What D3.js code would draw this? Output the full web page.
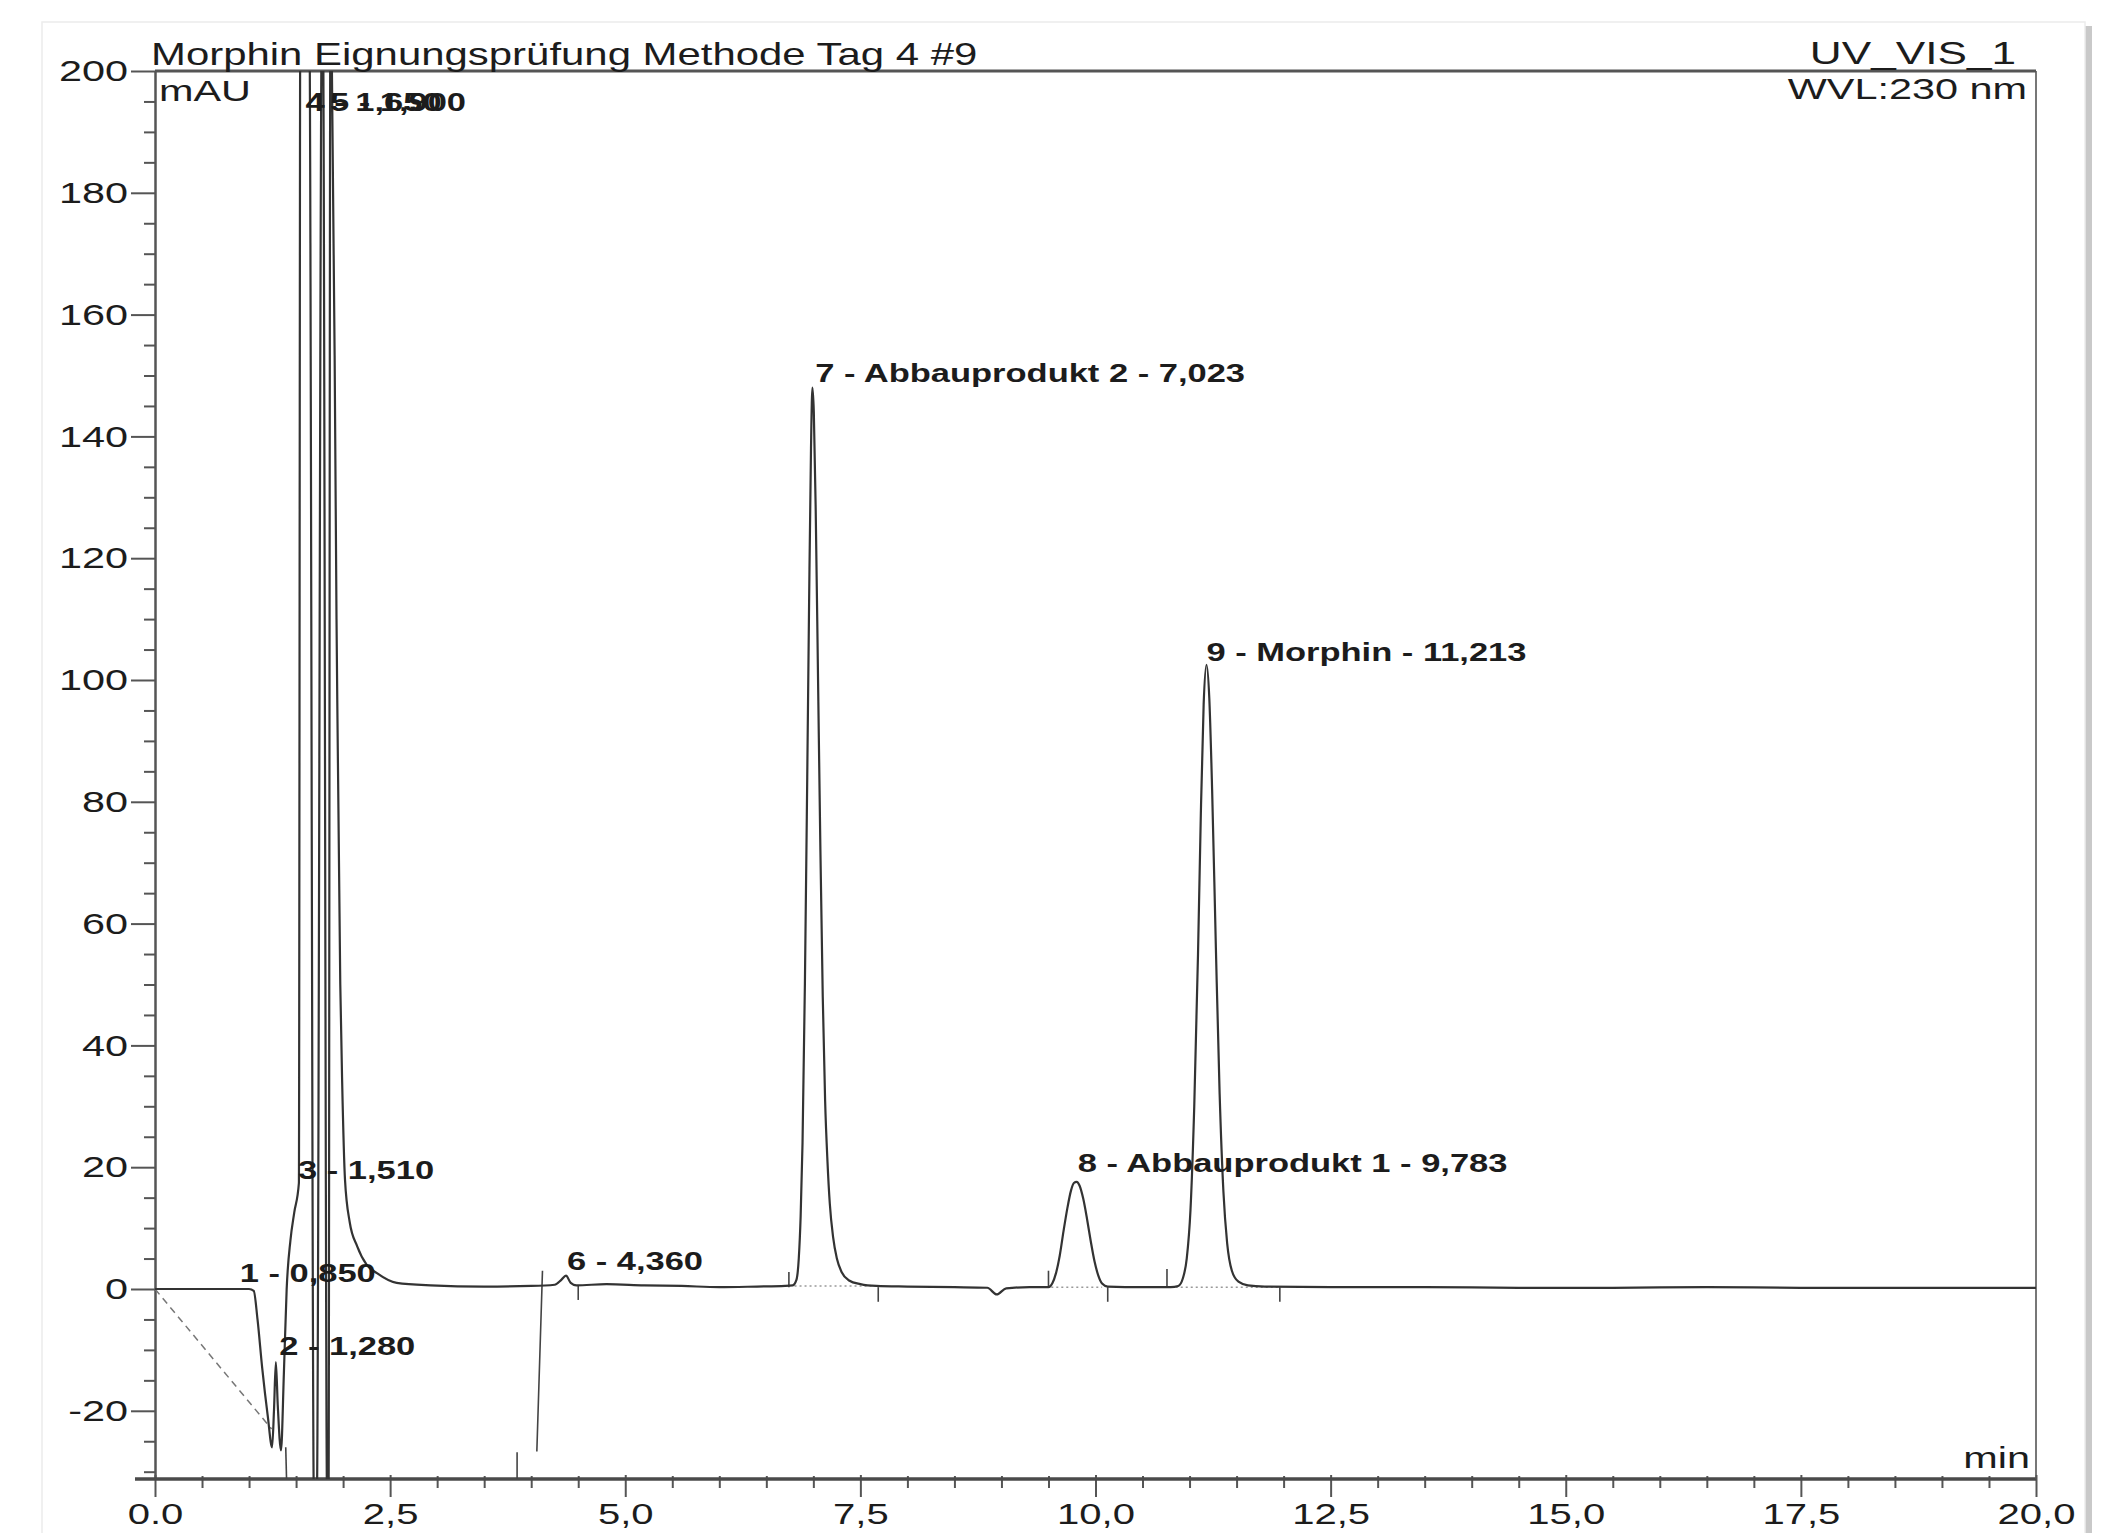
<!DOCTYPE html>
<html>
<head>
<meta charset="utf-8">
<script src="https://cdn.jsdelivr.net/npm/d3@7"></script>
<style>
  html, body { margin: 0; background: #fff; }
  svg { display: block; }
  text { font-family: "Liberation Sans", Arial, sans-serif; fill: #1c1c1c; }
</style>
</head>
<body>
<svg id="chart" width="2106" height="1533"></svg>
<script>
// Chromatogram UV_VIS_1 (min, mAU)
const title = 'Morphin Eignungsprüfung Methode Tag 4 #9';
const channel = 'UV_VIS_1';
const wavelength = 'WVL:230 nm';

const trace = [
  [0.00, 0.0], [0.50, 0.0], [1.00, 0.0], [1.05, -0.3], [1.09, -5], [1.14, -13], [1.20, -21],
  [1.245, -26], [1.265, -20], [1.285, -12], [1.305, -19], [1.34, -26.5], [1.37, -14],
  [1.40, 0], [1.44, 8], [1.48, 12.5], [1.53, 17.4],
  [1.545, 210], [1.64, 210], [1.69, -35], [1.72, -35], [1.775, 210], [1.785, 210],
  [1.83, -35], [1.845, -35], [1.865, 210], [1.875, 210],
  [1.93, 110], [1.97, 50], [1.99, 34], [2.02, 18], [2.07, 11], [2.15, 7], [2.25, 4],
  [2.36, 2.6], [2.57, 1.0], [2.93, 0.6], [3.50, 0.4], [4.00, 0.5], [4.25, 0.7],
  [4.32, 1.5], [4.37, 2.2], [4.42, 1.0], [4.48, 0.6], [4.80, 0.8], [5.20, 0.6],
  [5.60, 0.5], [6.00, 0.3], [6.40, 0.4],
  [6.70, 0.5], [6.78, 0.6], [6.82, 1.5], [6.845, 5], [6.865, 12], [6.885, 24], [6.91, 50],
  [6.935, 84], [6.955, 113], [6.975, 138], [6.99, 148], [7.005, 144], [7.025, 128],
  [7.05, 100], [7.075, 72], [7.10, 48], [7.125, 31], [7.15, 21], [7.175, 14], [7.21, 8.5],
  [7.25, 5], [7.30, 2.8], [7.38, 1.4], [7.50, 0.8], [7.67, 0.5],
  [8.00, 0.4], [8.50, 0.3], [8.85, 0.2], [8.95, -0.9], [9.05, 0.1], [9.30, 0.3],
  [9.50, 0.3], [9.54, 0.9], [9.58, 2.6], [9.62, 5.5], [9.66, 9.5], [9.70, 13.2], [9.74, 16.2],
  [9.77, 17.4], [9.80, 17.6], [9.83, 17.0], [9.87, 14.8], [9.91, 11.5], [9.95, 7.8],
  [9.99, 4.5], [10.03, 2.2], [10.07, 0.9], [10.13, 0.4], [10.50, 0.3],
  [10.80, 0.3], [10.88, 0.5], [10.93, 1.8], [10.97, 5], [11.01, 13], [11.05, 30], [11.09, 55],
  [11.12, 78], [11.15, 96], [11.18, 102.5], [11.21, 97], [11.24, 82], [11.28, 56], [11.32, 32],
  [11.36, 16], [11.40, 7.5], [11.45, 3], [11.52, 1.2], [11.62, 0.6], [11.80, 0.4],
  [12.50, 0.3], [13.50, 0.3], [14.50, 0.2], [15.50, 0.2], [16.50, 0.3], [17.50, 0.2],
  [18.50, 0.2], [19.50, 0.2], [20.00, 0.2]
];

// peak labels and where their text starts (min, mAU)
const peakLabels = ['1 - 0,850', '2 - 1,280', '3 - 1,510', '4 - 1,650', '5 - 1,900', '6 - 4,360',
  '7 - Abbauprodukt 2 - 7,023', '8 - Abbauprodukt 1 - 9,783', '9 - Morphin - 11,213'];
const peakLabelAt = [[0.90, 1.2], [1.32, -10.9], [1.52, 18.1], [1.60, 193.5], [1.86, 193.5],
  [4.38, 3.1], [7.02, 148.9], [9.81, 19.2], [11.18, 103.1]];

// integration baselines and peak delimiters
const dashedBase = [[0, 0], [1.24, -23]];
const dottedBases = [[[6.80, 0.5], [7.67, 0.5]], [[9.53, 0.3], [10.07, 0.3]], [[10.80, 0.3], [11.95, 0.3]]];
const delimiters = [
  [1.39, -26, 1.40, -32], [3.85, -26.8, 3.85, -32], [4.12, 3.0, 4.06, -26.7],
  [4.50, 0.5, 4.50, -1.8], [6.74, 2.8, 6.74, 0.3], [7.69, 0.3, 7.69, -2.1],
  [9.50, 3.0, 9.50, 0.3], [10.13, 0.3, 10.13, -2.1], [10.76, 3.3, 10.76, 0.3],
  [11.96, 0.3, 11.96, -2.1]
];

const xTicks = [0, 2.5, 5, 7.5, 10, 12.5, 15, 17.5, 20];
const xTickLabels = ['0.0', '2,5', '5,0', '7,5', '10,0', '12,5', '15,0', '17,5', '20,0'];
const yTicks = [-20, 0, 20, 40, 60, 80, 100, 120, 140, 160, 180, 200];
const yTickLabels = ['-20', '0', '20', '40', '60', '80', '100', '120', '140', '160', '180', '200'];

const SX = 1.38; // the scan is stretched sideways, so is the lettering
const svg = d3.select('#chart');
const X0 = 155, X1 = 2036, YT = 71, YB = 1479;
const x = d3.scaleLinear().domain([0, 20]).range([X0, X1]);
const y = d3.scaleLinear().domain([-31.2, 200]).range([YB, YT]);

// page edge with a little shadow on the right
svg.append('rect').attr('x', 2085).attr('y', 26).attr('width', 7).attr('height', 1507).attr('fill', '#c9c9c9');
svg.append('rect').attr('x', 42).attr('y', 22).attr('width', 2043).attr('height', 1520)
  .attr('fill', '#fff').attr('stroke', '#ececec').attr('stroke-width', 1.5);

function txt(s, px, py, size, weight, anchor, sx) {
  return svg.append('text')
    .attr('transform', `translate(${px},${py}) scale(${sx || SX},1)`)
    .attr('text-anchor', anchor || 'start')
    .style('font-size', size + 'px').style('font-weight', weight || 'normal')
    .text(s);
}

// y axis
const yAx = svg.append('g').attr('transform', `translate(${X0},0)`)
  .call(d3.axisLeft(y).tickValues(yTicks).tickFormat((d, i) => yTickLabels[i]).tickSize(24).tickSizeOuter(0));
yAx.select('.domain').attr('stroke', '#555').attr('stroke-width', 2.5);
yAx.selectAll('.tick line').attr('stroke', '#555').attr('stroke-width', 2);
yAx.selectAll('.tick text').attr('x', -27 / SX).attr('transform', `scale(${SX},1)`)
  .style('font-size', '30px').attr('font-family', null);
svg.append('g').attr('transform', `translate(${X0},0)`)
  .call(d3.axisLeft(y).tickValues(d3.range(-30, 200, 5).filter(v => v % 20 !== 0)).tickFormat('').tickSize(11).tickSizeOuter(0))
  .call(g => g.select('.domain').remove())
  .selectAll('line').attr('stroke', '#555').attr('stroke-width', 2);

// x axis
const xAx = svg.append('g').attr('transform', `translate(0,${YB})`)
  .call(d3.axisBottom(x).tickValues(xTicks).tickFormat((d, i) => xTickLabels[i]).tickSize(18).tickSizeOuter(0));
xAx.select('.domain').remove();
xAx.selectAll('.tick line').attr('stroke', '#555').attr('stroke-width', 2).attr('y1', -4);
xAx.selectAll('.tick text').attr('y', 45).attr('dy', null).attr('transform', `scale(${SX},1)`)
  .style('font-size', '29px').attr('font-family', null);
svg.append('g').attr('transform', `translate(0,${YB})`)
  .call(d3.axisBottom(x).tickValues(d3.range(0.5, 20, 0.5).filter(v => v % 2.5 !== 0)).tickFormat('').tickSize(9).tickSizeOuter(0))
  .call(g => g.select('.domain').remove())
  .selectAll('line').attr('stroke', '#555').attr('stroke-width', 2).attr('y1', -3);
svg.append('line').attr('x1', X0 - 20).attr('x2', X1).attr('y1', YB).attr('y2', YB)
  .attr('stroke', '#4a4a4a').attr('stroke-width', 3.5);

// frame: top and right
svg.append('line').attr('x1', X0).attr('x2', X1).attr('y1', YT).attr('y2', YT)
  .attr('stroke', '#555').attr('stroke-width', 3);
svg.append('line').attr('x1', X1).attr('x2', X1).attr('y1', YT).attr('y2', YB)
  .attr('stroke', '#555').attr('stroke-width', 1.6);

// texts around the frame
txt(title, 151, 65, 32, 'normal', 'start', 1.31);
txt(channel, 2016, 64, 32, 'normal', 'end');
txt(wavelength, 2027, 99, 30, 'normal', 'end');
txt('mAU', 159, 101, 30);
txt('min', 2030, 1468, 30, 'normal', 'end');

// plot area
svg.append('clipPath').attr('id', 'plot').append('rect')
  .attr('x', X0).attr('y', YT).attr('width', X1 - X0).attr('height', YB - YT);
const plot = svg.append('g').attr('clip-path', 'url(#plot)');
const line = d3.line().x(d => x(d[0])).y(d => y(d[1]));

plot.append('path').datum(dashedBase).attr('d', line)
  .attr('fill', 'none').attr('stroke', '#777').attr('stroke-width', 1.5).attr('stroke-dasharray', '7,5');
plot.selectAll('path.dot').data(dottedBases).enter().append('path').attr('class', 'dot')
  .attr('d', line).attr('fill', 'none').attr('stroke', '#999').attr('stroke-width', 1.5).attr('stroke-dasharray', '2,3');
plot.selectAll('line.delim').data(delimiters).enter().append('line').attr('class', 'delim')
  .attr('x1', d => x(d[0])).attr('y1', d => y(d[1])).attr('x2', d => x(d[2])).attr('y2', d => y(d[3]))
  .attr('stroke', '#444').attr('stroke-width', 1.6);
plot.append('path').datum(trace).attr('d', line.curve(d3.curveMonotoneX))
  .attr('fill', 'none').attr('stroke', '#333').attr('stroke-width', 2.2).attr('stroke-linejoin', 'round');

// peak labels
peakLabels.forEach((s, i) => {
  txt(s, x(peakLabelAt[i][0]), y(peakLabelAt[i][1]), 25, 'bold');
});
</script>
</body>
</html>
